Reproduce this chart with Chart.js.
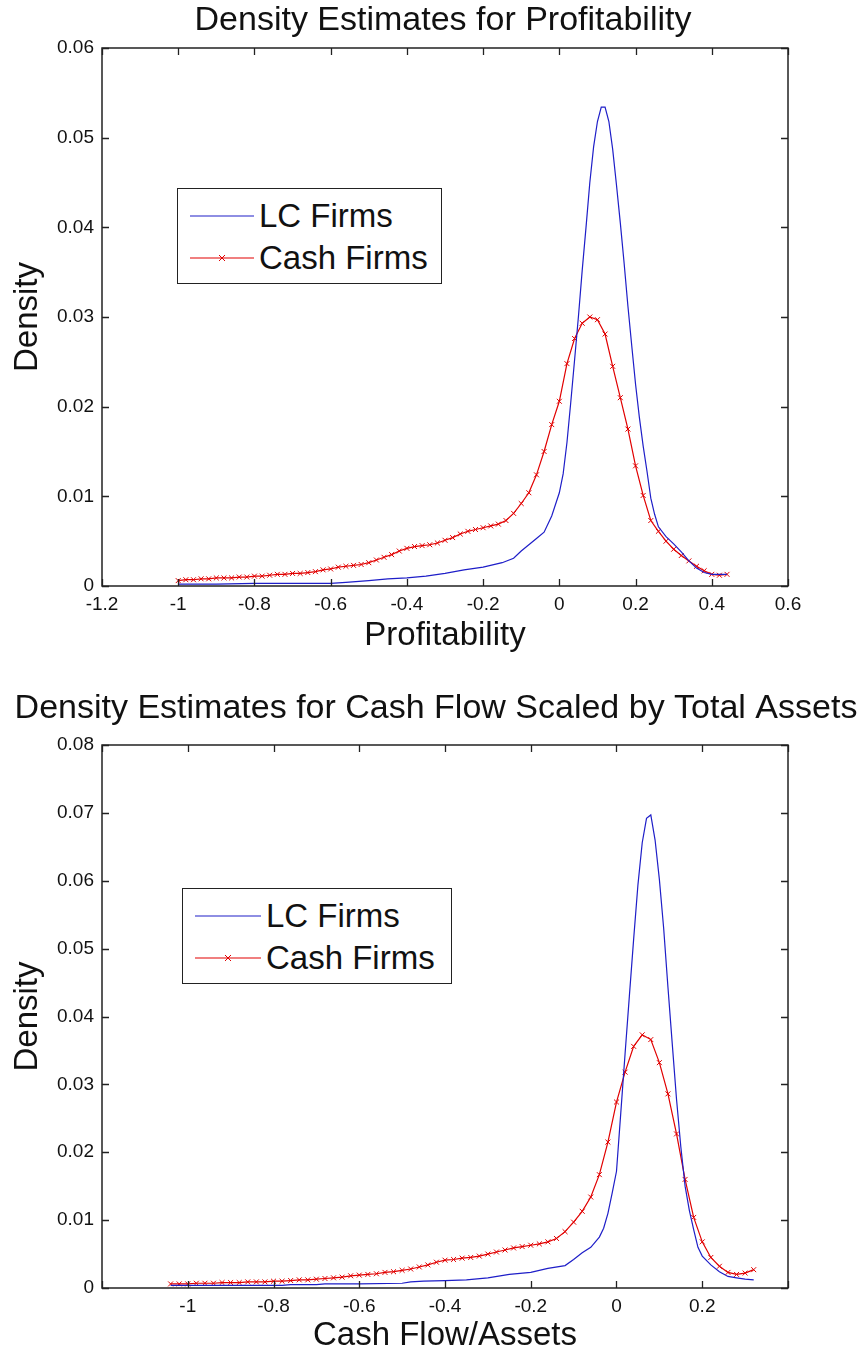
<!DOCTYPE html>
<html>
<head>
<meta charset="utf-8">
<script src="https://cdn.jsdelivr.net/npm/chart.js@4.4.1/dist/chart.umd.min.js"></script>
<style>
  html, body { margin: 0; padding: 0; background: #fff; }
  body { width: 868px; height: 1354px; position: relative; overflow: hidden; font-family: 'Liberation Sans', Arial, sans-serif; }
  .wrap { position: absolute; left: 0; width: 868px; }
  .legend { position: absolute; box-sizing: border-box; border: 1.5px solid #222; background: #fff; }
  .legend span { position: absolute; font-size: 33px; line-height: 40px; height: 40px; color: #111; white-space: nowrap; }
  .legend svg { position: absolute; left: 0; top: 0; }
</style>
</head>
<body>
<div class="wrap" style="top:0;height:660px"><canvas id="c1"></canvas></div>
<div class="wrap" style="top:668px;height:686px"><canvas id="c2"></canvas></div>

<div class="legend" style="left:177px;top:188px;width:265px;height:96px">
  <svg width="265" height="96">
    <line x1="12" y1="27" x2="76" y2="27" stroke="rgb(30,30,200)" stroke-width="1.2"/>
    <line x1="12" y1="69" x2="76" y2="69" stroke="rgb(225,0,0)" stroke-width="1.2"/>
    <line x1="41" y1="66" x2="47" y2="72" stroke="rgb(225,0,0)" stroke-width="1"/>
    <line x1="41" y1="72" x2="47" y2="66" stroke="rgb(225,0,0)" stroke-width="1"/>
  </svg>
  <span style="left:81px;top:7px">LC Firms</span>
  <span style="left:81px;top:49px">Cash Firms</span>
</div>

<div class="legend" style="left:182px;top:888px;width:270px;height:96px">
  <svg width="270" height="96">
    <line x1="12" y1="27" x2="78" y2="27" stroke="rgb(30,30,200)" stroke-width="1.2"/>
    <line x1="12" y1="69" x2="78" y2="69" stroke="rgb(225,0,0)" stroke-width="1.2"/>
    <line x1="42" y1="66" x2="48" y2="72" stroke="rgb(225,0,0)" stroke-width="1"/>
    <line x1="42" y1="72" x2="48" y2="66" stroke="rgb(225,0,0)" stroke-width="1"/>
  </svg>
  <span style="left:83px;top:7px">LC Firms</span>
  <span style="left:83px;top:49px">Cash Firms</span>
</div>

<script>
// ---------- Data: Profitability ----------
const profLcX = [-1.00,-0.90,-0.80,-0.70,-0.60,-0.56,-0.50,-0.45,-0.40,-0.35,-0.30,-0.25,-0.20,-0.15,-0.12,-0.10,-0.08,-0.06,-0.04,-0.02,
  0.00,0.01,0.02,0.03,0.04,0.05,0.06,0.07,0.08,0.09,0.10,0.11,0.12,0.13,0.14,0.15,0.16,0.17,0.18,0.19,
  0.20,0.21,0.22,0.23,0.24,0.25,0.26,0.28,0.30,0.32,0.34,0.36,0.38,0.40,0.42,0.44];
const profLcY = [0.0002,0.0002,0.0003,0.0003,0.0003,0.0004,0.0006,0.0008,0.0009,0.0011,0.0014,0.0018,0.0021,0.0026,0.0031,0.0039,0.0046,0.0053,0.0060,0.0078,
  0.0104,0.0125,0.0160,0.0205,0.0252,0.0300,0.0352,0.0400,0.0450,0.0490,0.0518,0.0534,0.0534,0.0518,0.0487,0.0447,0.0405,0.0360,0.0312,0.0268,
  0.0225,0.0188,0.0156,0.0128,0.0098,0.0080,0.0066,0.0055,0.0047,0.0038,0.0028,0.0020,0.0015,0.0013,0.0013,0.0013];

const profCashX = [-1.00,-0.98,-0.96,-0.94,-0.92,-0.90,-0.88,-0.86,-0.84,-0.82,-0.80,-0.78,-0.76,-0.74,-0.72,-0.70,-0.68,-0.66,-0.64,-0.62,
  -0.60,-0.58,-0.56,-0.54,-0.52,-0.50,-0.48,-0.46,-0.44,-0.42,-0.40,-0.38,-0.36,-0.34,-0.32,-0.30,-0.28,-0.26,-0.24,-0.22,
  -0.20,-0.18,-0.16,-0.14,-0.12,-0.10,-0.08,-0.06,-0.04,-0.02,0.00,0.02,0.04,0.06,0.08,0.10,0.12,0.14,0.16,0.18,
  0.20,0.22,0.24,0.26,0.28,0.30,0.32,0.34,0.36,0.38,0.40,0.42,0.44];
const profCashY = [0.0006,0.0007,0.0007,0.0008,0.0008,0.0009,0.0009,0.0009,0.0010,0.0010,0.0011,0.0011,0.0012,0.0013,0.0013,0.0014,0.0014,0.0015,0.0016,0.0018,
  0.0019,0.0021,0.0022,0.0023,0.0024,0.0026,0.0029,0.0032,0.0035,0.0039,0.0042,0.0044,0.0045,0.0046,0.0048,0.0051,0.0054,0.0058,0.0061,0.0063,
  0.0065,0.0067,0.0069,0.0073,0.0081,0.0092,0.0104,0.0124,0.0150,0.0180,0.0206,0.0248,0.0276,0.0293,0.0300,0.0297,0.0281,0.0245,0.0210,0.0175,
  0.0134,0.0101,0.0073,0.0061,0.0050,0.0041,0.0034,0.0028,0.0022,0.0017,0.0013,0.0012,0.0013];

// ---------- Data: Cash Flow / Assets ----------
const cfLcX = [-1.04,-0.95,-0.85,-0.78,-0.76,-0.70,-0.68,-0.60,-0.50,-0.48,-0.45,-0.40,-0.35,-0.30,-0.25,-0.20,-0.16,-0.12,-0.10,-0.08,
  -0.06,-0.04,-0.03,-0.02,-0.01,0.00,0.01,0.02,0.03,0.04,0.05,0.06,0.07,0.08,0.09,0.10,0.11,0.12,0.13,0.14,
  0.15,0.16,0.17,0.18,0.19,0.20,0.22,0.24,0.26,0.28,0.30,0.32];
const cfLcY = [0.0004,0.0004,0.0004,0.0004,0.0005,0.0005,0.0006,0.0006,0.0007,0.0009,0.0010,0.0011,0.0012,0.0015,0.0020,0.0023,0.0029,0.0033,0.0042,0.0052,
  0.0060,0.0075,0.0088,0.0110,0.0140,0.0172,0.0258,0.0345,0.0430,0.0514,0.0594,0.0656,0.0692,0.0697,0.0660,0.0602,0.0530,0.0443,0.0360,0.0278,
  0.0208,0.0150,0.0114,0.0086,0.0060,0.0047,0.0034,0.0024,0.0017,0.0015,0.0013,0.0012];

const cfCashX = [-1.04,-1.02,-1.00,-0.98,-0.96,-0.94,-0.92,-0.90,-0.88,-0.86,-0.84,-0.82,-0.80,-0.78,-0.76,-0.74,-0.72,-0.70,-0.68,-0.66,
  -0.64,-0.62,-0.60,-0.58,-0.56,-0.54,-0.52,-0.50,-0.48,-0.46,-0.44,-0.42,-0.40,-0.38,-0.36,-0.34,-0.32,-0.30,-0.28,-0.26,
  -0.24,-0.22,-0.20,-0.18,-0.16,-0.14,-0.12,-0.10,-0.08,-0.06,-0.04,-0.02,0.00,0.02,0.04,0.06,0.08,0.10,0.12,0.14,
  0.16,0.18,0.20,0.22,0.24,0.26,0.28,0.30,0.32];
const cfCashY = [0.0006,0.0006,0.0006,0.0007,0.0007,0.0007,0.0008,0.0008,0.0008,0.0009,0.0009,0.0009,0.0010,0.0010,0.0011,0.0012,0.0012,0.0013,0.0014,0.0015,
  0.0016,0.0018,0.0019,0.0020,0.0021,0.0023,0.0024,0.0026,0.0028,0.0031,0.0034,0.0038,0.0041,0.0042,0.0044,0.0045,0.0047,0.0050,0.0053,0.0056,
  0.0059,0.0061,0.0063,0.0065,0.0068,0.0073,0.0083,0.0097,0.0113,0.0134,0.0167,0.0215,0.0274,0.0318,0.0356,0.0373,0.0366,0.0332,0.0286,0.0227,
  0.0160,0.0104,0.0068,0.0045,0.0032,0.0023,0.0020,0.0022,0.0027];

// ---------- Axis settings ----------
const profXRange = [-1.2, 0.6];
const profYRange = [0, 0.06];
const cfXRange = [-1.2, 0.4];
const cfYRange = [0, 0.08];
const cfHiddenXLabels = [-1.2, 0.4];

const FONT = "'Liberation Sans', Arial, Helvetica, sans-serif";
Chart.defaults.font.family = FONT;
Chart.defaults.color = '#111';

const BLUE = 'rgb(30,30,200)';
const RED = 'rgb(225,0,0)';

function pts(xs, ys) { return xs.map((x, i) => ({x: x, y: ys[i]})); }

const boxTicks = {
  id: 'boxTicks',
  afterDatasetsDraw(chart) {
    const {ctx, chartArea: a, scales} = chart;
    const x = scales.x, y = scales.y;
    const L = 7;
    ctx.save();
    ctx.strokeStyle = '#222';
    ctx.lineWidth = 1.3;
    ctx.beginPath();
    x.ticks.forEach(t => {
      const px = Math.round(x.getPixelForValue(t.value)) + 0.5;
      ctx.moveTo(px, a.bottom); ctx.lineTo(px, a.bottom - L);
      ctx.moveTo(px, a.top); ctx.lineTo(px, a.top + L);
    });
    y.ticks.forEach(t => {
      const py = Math.round(y.getPixelForValue(t.value)) + 0.5;
      ctx.moveTo(a.left, py); ctx.lineTo(a.left + L, py);
      ctx.moveTo(a.right, py); ctx.lineTo(a.right - L, py);
    });
    ctx.stroke();
    ctx.lineWidth = 1.5;
    ctx.strokeRect(a.left, a.top, a.right - a.left, a.bottom - a.top);
    ctx.restore();
  }
};

function fmtX(v) { const r = Math.round(v * 10) / 10; return r === 0 ? '0' : String(r); }
function fmtY(v) { const r = Math.round(v * 100) / 100; return r === 0 ? '0' : String(r); }

function makeChart(id, cfg) {
  return new Chart(document.getElementById(id), {
    type: 'line',
    data: {
      datasets: [
        { label: 'LC Firms', data: pts(cfg.lcX, cfg.lcY), borderColor: BLUE, borderWidth: 1.2,
          pointRadius: 0, tension: 0, fill: false },
        { label: 'Cash Firms', data: pts(cfg.cashX, cfg.cashY), borderColor: RED, borderWidth: 1.2,
          pointStyle: 'crossRot', pointRadius: 3.5, pointBorderColor: RED, pointBorderWidth: 1,
          pointBackgroundColor: RED, tension: 0, fill: false }
      ]
    },
    options: {
      responsive: true,
      maintainAspectRatio: false,
      animation: false,
      devicePixelRatio: 1,
      layout: { padding: { left: cfg.padLeft, right: 0, top: 0, bottom: cfg.padBottom } },
      plugins: {
        legend: { display: false },
        tooltip: { enabled: false },
        title: {
          display: true, text: cfg.title, color: '#111',
          font: { size: 34, weight: 'normal', lineHeight: 1 },
          padding: { top: cfg.titleTop, bottom: cfg.titleBottom }
        }
      },
      scales: {
        x: {
          type: 'linear', min: cfg.xRange[0], max: cfg.xRange[1],
          grid: { display: false, drawTicks: false }, border: { display: false },
          ticks: { stepSize: 0.2, autoSkip: false, maxRotation: 0, padding: 7,
                   font: { size: 19 }, color: '#111',
                   callback: v => (cfg.hideX && cfg.hideX.some(h => Math.abs(h - v) < 1e-6)) ? '' : fmtX(v) },
          title: { display: true, text: cfg.xTitle, color: '#111',
                   font: { size: 33, lineHeight: 1 }, padding: { top: 0, bottom: 0 } },
          afterFit: s => { s.height = cfg.xHeight; }
        },
        y: {
          type: 'linear', position: 'left', min: cfg.yRange[0], max: cfg.yRange[1],
          grid: { display: false, drawTicks: false }, border: { display: false },
          ticks: { stepSize: 0.01, padding: 8, font: { size: 19 }, color: '#111', callback: v => fmtY(v) },
          title: { display: true, text: 'Density', color: '#111',
                   font: { size: 33, lineHeight: 1 }, padding: { top: 11 - cfg.padLeft, bottom: 0 } },
          afterFit: s => { s.width = 102 - cfg.padLeft; }
        },
        yR: {
          type: 'linear', position: 'right', display: true,
          grid: { display: false, drawTicks: false }, border: { display: false },
          ticks: { display: false }, title: { display: false },
          afterFit: s => { s.width = 80; }
        }
      }
    },
    plugins: [boxTicks]
  });
}

makeChart('c1', {
  title: 'Density Estimates for Profitability', xTitle: 'Profitability',
  lcX: profLcX, lcY: profLcY, cashX: profCashX, cashY: profCashY,
  xRange: profXRange, yRange: profYRange,
  titleTop: 4, titleBottom: 10, padBottom: 8, padLeft: 18, xHeight: 66
});

makeChart('c2', {
  title: 'Density Estimates for Cash Flow Scaled by Total Assets', xTitle: 'Cash Flow/Assets',
  lcX: cfLcX, lcY: cfLcY, cashX: cfCashX, cashY: cfCashY,
  xRange: cfXRange, yRange: cfYRange, hideX: cfHiddenXLabels,
  titleTop: 24, titleBottom: 19, padBottom: 2, padLeft: 4, xHeight: 64
});
</script>
</body>
</html>
